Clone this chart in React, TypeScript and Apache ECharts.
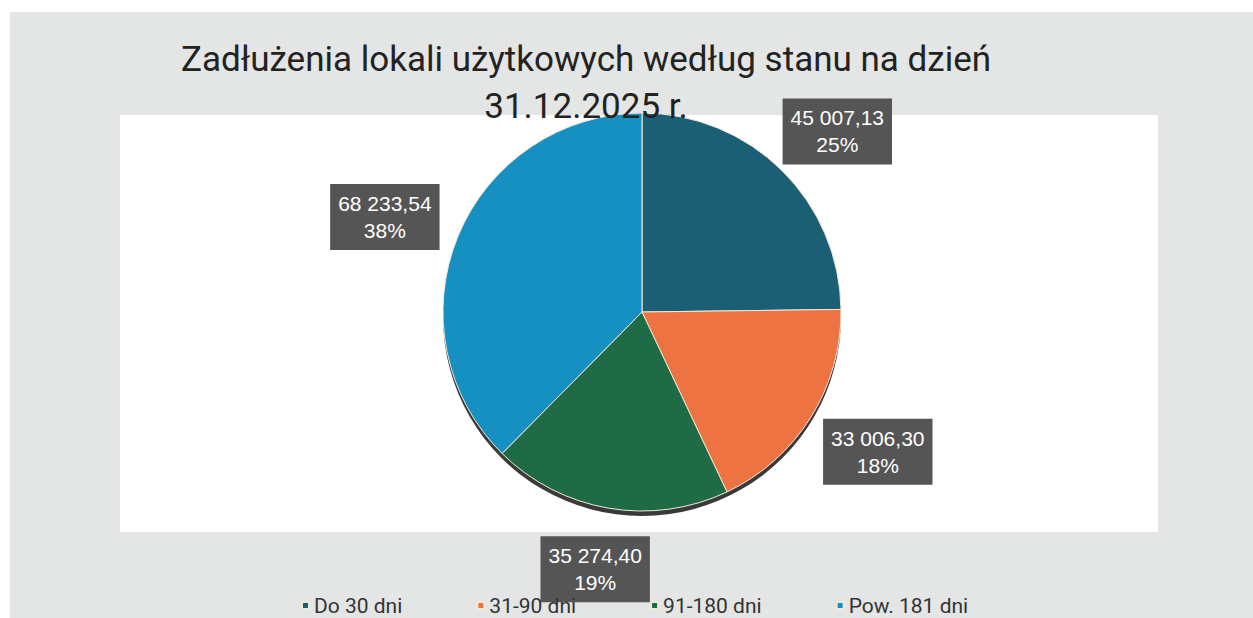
import React, { useEffect, useRef } from "react";
import * as echarts from "echarts";

const titleLines = ["Zadłużenia lokali użytkowych według stanu na dzień", "31.12.2025 r."];
const categories = ["Do 30 dni", "31-90 dni", "91-180 dni", "Pow. 181 dni"];
const values = [45007.13, 33006.3, 35274.4, 68233.54];
const colors = ["#1b5f75", "#ee7342", "#1f6b45", "#1690c0"];

const CX = 642;
const CY = 312;
const R = 199;
const LRX = 278;
const LRY = 258;
const LDY = 3;

function fmt(v: number): string {
  const [i, d] = v.toFixed(2).split(".");
  const withSp = i.replace(/\B(?=(\d{3})+(?!\d))/g, " ");
  return withSp + "," + d;
}

export default function App() {
  const ref = useRef<HTMLDivElement>(null);
  useEffect(() => {
    document.body.style.margin = "0";
    if (!ref.current) return;
    const chart = echarts.init(ref.current, undefined, { renderer: "svg" });
    const total = values.reduce((a, b) => a + b, 0);
    const mids: number[] = [];
    let acc = 0;
    values.forEach((v) => {
      const a0 = (acc / total) * 360;
      acc += v;
      const a1 = (acc / total) * 360;
      mids.push(((a0 + a1) / 2) * (Math.PI / 180));
    });
    chart.setOption({
      animation: false,
      backgroundColor: "#ffffff",
      graphic: [
        { type: "rect", z: -10, shape: { x: 10, y: 12, width: 1243, height: 606 }, style: { fill: "#e3e6e4" }, silent: true },
        { type: "rect", z: -9, shape: { x: 120, y: 115, width: 1038, height: 417 }, style: { fill: "#ffffff" }, silent: true },
      ],
      title: {
        text: titleLines.join("\n"),
        left: 581,
        top: 31,
        textAlign: "center",
        textStyle: {
          fontFamily: "Roboto, sans-serif",
          fontSize: 35,
          fontWeight: "normal",
          color: "#222222",
          lineHeight: 47,
        },
      },
      legend: {
        data: categories,
        top: 590,
        left: 296,
        itemWidth: 7,
        itemHeight: 7,
        itemGap: 74,
        icon: "rect",
        textStyle: {
          fontFamily: "Roboto, sans-serif",
          fontSize: 21,
          color: "#333333",
        },
      },
      series: [
        {
          type: "pie",
          silent: true,
          center: [CX, CY + 5],
          radius: R,
          z: 1,
          label: { show: false },
          labelLine: { show: false },
          itemStyle: { color: "#3a3a3a" },
          data: [{ value: 1, name: "_shadow" }],
          tooltip: { show: false },
        },
        {
          type: "pie",
          center: [CX, CY],
          radius: R,
          z: 2,
          startAngle: 90,
          clockwise: true,
          itemStyle: { borderColor: "#f2ead8", borderWidth: 1 },
          labelLine: { show: false },
          label: {
            show: true,
            position: "outside",
            formatter: (p: any) => fmt(p.value) + "\n" + Math.round(p.percent) + "%",
            backgroundColor: "#555555",
            color: "#ffffff",
            fontFamily: "'Liberation Sans', Arial, sans-serif",
            fontSize: 21,
            lineHeight: 27,
            padding: [6, 8, 6, 8],
            align: "center",
          },
          labelLayout: (params: any) => {
            const a = mids[params.dataIndex];
            return {
              x: CX + LRX * Math.sin(a),
              y: CY + LDY - LRY * Math.cos(a),
              align: "center",
              verticalAlign: "middle",
            };
          },
          data: categories.map((c, i) => ({ name: c, value: values[i], itemStyle: { color: colors[i] } })),
        },
      ],
    });
    return () => chart.dispose();
  }, []);
  return <div ref={ref} style={{ width: 1253, height: 618 }} />;
}
